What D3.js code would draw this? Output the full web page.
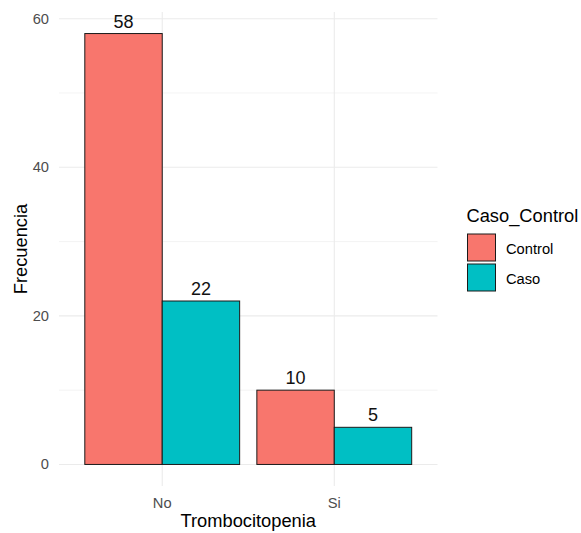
<!DOCTYPE html>
<html><head><meta charset="utf-8">
<script src="https://cdn.jsdelivr.net/npm/d3@7"></script>
<style>body{margin:0;background:#fff}svg{display:block}text{font-family:"Liberation Sans",Arial,sans-serif}</style>
</head><body>
<script>
const categories = ["No", "Si"];
const groups = ["Control", "Caso"];
const controlValues = [58, 10];
const casoValues = [22, 5];
const yTicks = [0, 20, 40, 60];
const yMinor = [10, 30, 50];
const colors = ["#F8766D", "#00BFC4"];

const W = 581, H = 533;
const svg = d3.select("body").append("svg").attr("width", W).attr("height", H);
const panel = {left: 59, right: 437.5, top: 12, bottom: 486};

const data = categories.flatMap((c, i) => [
  {cat: c, grp: groups[0], v: controlValues[i]},
  {cat: c, grp: groups[1], v: casoValues[i]}
]);

const maxV = d3.max(data, d => d.v);
const y = d3.scaleLinear().domain([-maxV * 0.05, maxV * 1.05]).range([panel.bottom, panel.top]);
// discrete axis: 0.6 unit expansion each side
const xc = d3.scaleLinear().domain([0.4, categories.length + 0.6]).range([panel.left, panel.right]);
const unit = xc(2) - xc(1);
const bw = 0.9 * unit;
const x1 = d3.scaleBand().domain(groups).range([-bw / 2, bw / 2]).padding(0);
const color = d3.scaleOrdinal().domain(groups).range(colors);

// grid
const g = svg.append("g");
g.selectAll(".minor").data(yMinor).join("line")
  .attr("x1", panel.left).attr("x2", panel.right)
  .attr("y1", d => y(d)).attr("y2", d => y(d))
  .attr("stroke", "#EBEBEB").attr("stroke-width", 0.6);
g.selectAll(".major").data(yTicks).join("line")
  .attr("x1", panel.left).attr("x2", panel.right)
  .attr("y1", d => y(d)).attr("y2", d => y(d))
  .attr("stroke", "#EBEBEB").attr("stroke-width", 1.1);
g.selectAll(".vmajor").data(categories).join("line")
  .attr("x1", (d, i) => xc(i + 1)).attr("x2", (d, i) => xc(i + 1))
  .attr("y1", panel.top).attr("y2", panel.bottom)
  .attr("stroke", "#EBEBEB").attr("stroke-width", 1.1);

// bars
svg.append("g").selectAll("rect").data(data).join("rect")
  .attr("x", d => xc(categories.indexOf(d.cat) + 1) + x1(d.grp))
  .attr("width", x1.bandwidth())
  .attr("y", d => y(d.v))
  .attr("height", d => y(0) - y(d.v))
  .attr("fill", d => color(d.grp))
  .attr("stroke", "#1a1a1a").attr("stroke-width", 1);

// value labels
svg.append("g").selectAll("text").data(data).join("text")
  .attr("x", d => xc(categories.indexOf(d.cat) + 1) + x1(d.grp) + x1.bandwidth() / 2)
  .attr("y", d => y(d.v) - 6)
  .attr("text-anchor", "middle")
  .attr("font-size", 18).attr("fill", "#111")
  .text(d => d.v);

// y tick labels
svg.append("g").selectAll("text").data(yTicks).join("text")
  .attr("x", 49).attr("y", d => y(d) + 5)
  .attr("text-anchor", "end").attr("font-size", 14.7).attr("fill", "#4D4D4D")
  .text(d => d);

// x tick labels
svg.append("g").selectAll("text").data(categories).join("text")
  .attr("x", (d, i) => xc(i + 1)).attr("y", 507.5)
  .attr("text-anchor", "middle").attr("font-size", 14.7).attr("fill", "#4D4D4D")
  .text(d => d);

// axis titles
svg.append("text").attr("x", (panel.left + panel.right) / 2).attr("y", 527)
  .attr("text-anchor", "middle").attr("font-size", 18.3).attr("fill", "#000")
  .text("Trombocitopenia");
svg.append("text").attr("transform", `translate(26.5,${(panel.top + panel.bottom) / 2}) rotate(-90)`)
  .attr("text-anchor", "middle").attr("font-size", 18.3).attr("fill", "#000")
  .text("Frecuencia");

// legend
const lg = svg.append("g");
lg.append("text").attr("x", 466.5).attr("y", 221.5).attr("font-size", 18.3).attr("fill", "#000").text("Caso_Control");
groups.forEach((gname, i) => {
  lg.append("rect").attr("x", 467.5).attr("y", 234 + i * 30).attr("width", 28).attr("height", 27)
    .attr("fill", color(gname)).attr("stroke", "#1a1a1a").attr("stroke-width", 1);
  lg.append("text").attr("x", 506).attr("y", 253.5 + i * 30).attr("font-size", 14.7).attr("fill", "#000").text(gname);
});
</script>
</body></html>
